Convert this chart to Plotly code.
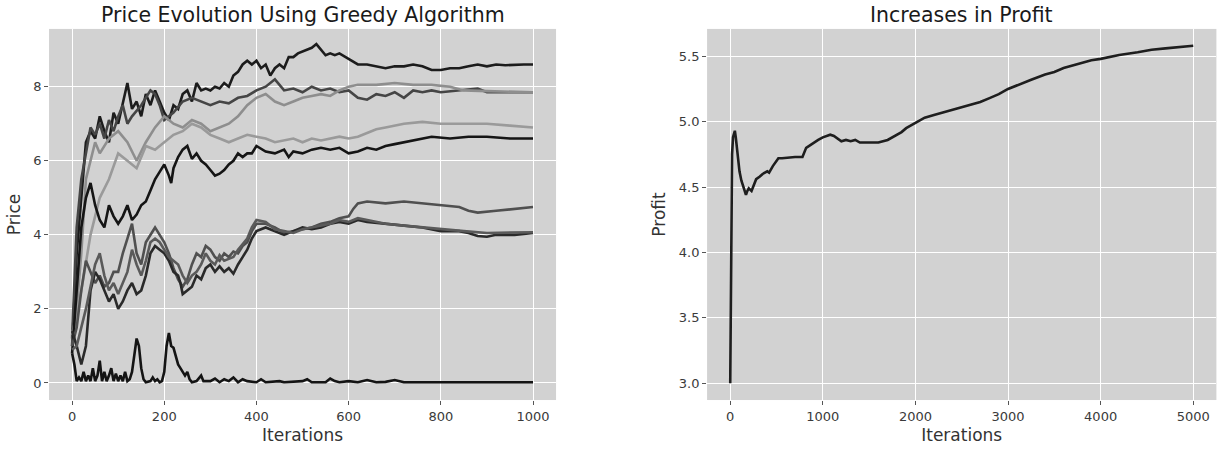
import plotly.graph_objects as go
from plotly.subplots import make_subplots

# ---- price paths (left panel) ----
# each line: iterations, prices
a_x = [0, 10, 20, 30, 40, 50, 60, 70, 80, 90, 100, 110, 120, 130, 140, 150, 160, 170, 180, 190,
       200, 210, 220, 230, 240, 250, 260, 270, 280, 290, 300, 310, 320, 330, 340, 350, 360, 370,
       380, 390, 400, 410, 420, 430, 440, 450, 460, 470, 480, 490, 500, 510, 520, 530, 540, 550,
       560, 570, 580, 600, 620, 640, 660, 680, 700, 720, 740, 760, 780, 800, 820, 840, 860, 880,
       900, 920, 940, 960, 980, 1000]
a_y = [1.0, 3.5, 5.0, 6.5, 6.8, 6.6, 7.2, 6.8, 6.5, 7.3, 7.0, 7.6, 8.1, 7.4, 7.6, 7.2, 7.8, 7.5, 7.9, 7.6,
       7.3, 7.1, 7.5, 7.4, 7.8, 7.9, 7.6, 8.1, 7.9, 7.95, 7.9, 8.0, 7.95, 8.1, 8.0, 8.3, 8.4, 8.6,
       8.7, 8.6, 8.7, 8.5, 8.6, 8.3, 8.5, 8.6, 8.5, 8.8, 8.8, 8.9, 8.95, 9.0, 9.05, 9.15, 9.0, 8.85,
       8.9, 8.85, 8.9, 8.75, 8.6, 8.6, 8.55, 8.5, 8.55, 8.55, 8.6, 8.55, 8.45, 8.45, 8.5, 8.5, 8.55, 8.6,
       8.55, 8.6, 8.58, 8.6, 8.6, 8.6]

b_x = [0, 10, 20, 30, 40, 50, 60, 70, 80, 90, 100, 110, 120, 130, 150, 170, 180, 190, 200, 220,
       240, 260, 280, 300, 320, 340, 360, 380, 400, 420, 440, 460, 480, 500, 520, 540, 560, 580,
       600, 620, 640, 660, 680, 700, 720, 740, 760, 780, 800, 840, 880, 900, 950, 1000]
b_y = [1.2, 4.2, 5.5, 6.2, 6.9, 6.7, 7.0, 6.6, 7.1, 6.8, 7.2, 7.5, 7.0, 7.2, 7.5, 7.9, 7.8, 7.5, 7.1, 7.3,
       7.6, 7.7, 7.6, 7.5, 7.6, 7.55, 7.7, 7.75, 7.9, 8.0, 8.2, 7.9, 7.95, 7.85, 8.0, 7.9, 7.95, 7.85,
       7.9, 7.7, 7.65, 7.8, 7.75, 7.85, 7.7, 7.9, 7.85, 7.9, 7.85, 7.9, 7.95, 7.85, 7.85, 7.85]

c_x = [0, 10, 20, 30, 40, 50, 60, 80, 100, 120, 140, 160, 180, 200, 220, 240, 260, 280, 300, 320,
       340, 360, 380, 400, 420, 440, 460, 480, 500, 520, 540, 560, 580, 600, 620, 660, 700, 740,
       780, 820, 850, 900, 950, 1000]
c_y = [1.0, 2.0, 3.5, 5.5, 6.0, 6.5, 6.2, 6.6, 6.8, 6.5, 6.0, 6.5, 6.9, 7.2, 7.0, 6.9, 7.1, 7.0, 6.8, 6.9,
       7.0, 7.2, 7.5, 7.7, 7.8, 7.6, 7.5, 7.6, 7.7, 7.75, 7.8, 7.75, 7.9, 8.0, 8.05, 8.05, 8.1, 8.05,
       8.05, 8.0, 7.9, 7.88, 7.86, 7.85]

d_x = [0, 20, 40, 60, 80, 100, 120, 140, 160, 180, 200, 220, 240, 260, 280, 300, 320, 340, 360, 380,
       400, 420, 440, 460, 480, 500, 520, 540, 560, 580, 600, 620, 640, 660, 680, 700, 720, 760,
       800, 850, 900, 950, 1000]
d_y = [1.3, 2.5, 4.0, 5.0, 5.5, 6.2, 6.0, 5.8, 6.4, 6.3, 6.5, 6.7, 6.8, 7.0, 6.9, 6.7, 6.6, 6.5, 6.6, 6.7,
       6.65, 6.6, 6.5, 6.55, 6.6, 6.5, 6.6, 6.55, 6.6, 6.65, 6.6, 6.65, 6.75, 6.85, 6.9, 6.95, 7.0, 7.05,
       7.0, 7.0, 7.0, 6.95, 6.9]

e_x = [0, 10, 20, 30, 40, 50, 60, 70, 80, 90, 100, 110, 120, 130, 140, 150, 160, 170, 180, 190,
       200, 210, 215, 220, 230, 240, 250, 260, 270, 280, 290, 300, 310, 320, 330, 340, 350, 360,
       370, 380, 390, 400, 420, 440, 460, 470, 480, 500, 520, 540, 560, 580, 600, 620, 640, 660,
       680, 700, 720, 740, 760, 780, 820, 860, 900, 950, 1000]
e_y = [0.8, 2.5, 4.2, 5.0, 5.4, 4.8, 4.4, 4.2, 4.8, 4.5, 4.3, 4.5, 4.8, 4.4, 4.55, 4.8, 4.9, 5.2, 5.5, 5.7,
       5.9, 5.6, 5.4, 5.8, 6.1, 6.3, 6.4, 6.05, 6.2, 6.0, 5.9, 5.75, 5.6, 5.65, 5.75, 5.9, 6.0, 6.2,
       6.1, 6.2, 6.2, 6.4, 6.25, 6.2, 6.3, 6.1, 6.25, 6.2, 6.3, 6.35, 6.3, 6.35, 6.2, 6.25, 6.35, 6.3,
       6.4, 6.45, 6.5, 6.55, 6.6, 6.65, 6.6, 6.65, 6.65, 6.6, 6.6]

f_x = [0, 10, 20, 30, 40, 50, 60, 70, 80, 90, 100, 110, 120, 130, 140, 150, 160, 170, 180, 190,
       200, 210, 220, 230, 240, 250, 260, 270, 280, 290, 300, 310, 320, 330, 340, 350, 360, 370,
       380, 390, 400, 420, 440, 460, 480, 500, 520, 540, 560, 580, 600, 610, 620, 640, 680, 720,
       760, 800, 840, 860, 880, 920, 960, 1000]
f_y = [1.0, 1.5, 2.5, 3.3, 3.0, 2.7, 2.9, 2.6, 2.7, 3.0, 3.0, 3.5, 3.9, 4.3, 3.5, 3.2, 3.8, 4.0, 4.2, 4.0,
       3.8, 3.5, 3.1, 2.8, 2.6, 2.8, 3.2, 3.5, 3.4, 3.7, 3.6, 3.4, 3.3, 3.5, 3.4, 3.55, 3.5, 3.7,
       3.8, 4.1, 4.3, 4.3, 4.2, 4.05, 4.1, 4.15, 4.2, 4.3, 4.35, 4.45, 4.5, 4.7, 4.85, 4.9, 4.85, 4.9,
       4.85, 4.8, 4.75, 4.65, 4.6, 4.65, 4.7, 4.75]

g_x = [0, 10, 20, 30, 40, 50, 60, 70, 80, 90, 100, 110, 120, 130, 140, 150, 160, 170, 180, 190,
       200, 210, 220, 230, 235, 240, 250, 260, 270, 280, 290, 300, 310, 320, 330, 340, 350, 360,
       370, 380, 390, 400, 420, 440, 460, 480, 500, 520, 540, 560, 580, 600, 620, 640, 680, 720,
       760, 800, 840, 860, 880, 900, 920, 960, 1000]
g_y = [1.4, 1.0, 0.5, 1.0, 2.5, 3.0, 2.8, 2.5, 2.2, 2.4, 2.0, 2.2, 2.5, 2.7, 2.4, 2.5, 2.9, 3.5, 3.7, 3.6,
       3.5, 3.3, 3.0, 2.9, 2.7, 2.4, 2.5, 2.6, 2.9, 2.8, 3.1, 3.2, 3.0, 3.15, 3.0, 3.1, 2.95, 3.2,
       3.4, 3.6, 3.9, 4.1, 4.2, 4.1, 4.0, 4.1, 4.2, 4.15, 4.2, 4.3, 4.35, 4.3, 4.4, 4.35, 4.3, 4.25,
       4.2, 4.1, 4.1, 4.05, 3.97, 3.95, 4.0, 4.0, 4.05]

h_x = [0, 10, 20, 30, 40, 50, 60, 70, 80, 90, 100, 110, 120, 130, 140, 150, 160, 170, 180, 190,
       200, 210, 220, 230, 240, 250, 260, 270, 280, 290, 300, 310, 320, 330, 340, 350, 360, 370,
       380, 390, 400, 420, 440, 460, 480, 500, 520, 540, 560, 580, 600, 620, 640, 680, 720, 760,
       800, 850, 900, 950, 1000]
h_y = [0.9, 1.0, 1.5, 2.0, 2.6, 3.2, 3.5, 2.9, 2.5, 2.7, 2.4, 2.7, 3.0, 3.6, 3.2, 2.9, 3.3, 3.8, 3.9, 3.8,
       3.6, 3.4, 3.3, 3.2, 2.9, 2.7, 2.9, 3.0, 3.2, 3.5, 3.3, 3.2, 3.45, 3.3, 3.35, 3.4, 3.6, 3.75,
       3.9, 4.2, 4.4, 4.35, 4.15, 4.1, 4.05, 4.15, 4.2, 4.25, 4.3, 4.4, 4.35, 4.45, 4.4, 4.3, 4.25, 4.2,
       4.15, 4.1, 4.05, 4.05, 4.07]

i_x = [0, 5, 10, 15, 20, 25, 30, 35, 40, 45, 50, 55, 60, 65, 70, 75, 80, 85, 90, 95,
       100, 105, 110, 115, 120, 125, 130, 135, 140, 145, 150, 155, 160, 170, 175, 180, 185, 190, 195, 200,
       205, 210, 215, 220, 225, 230, 235, 240, 245, 250, 255, 260, 270, 280, 285, 300, 310, 320, 330, 340,
       350, 360, 370, 380, 400, 410, 420, 450, 460, 500, 510, 520, 550, 560, 570, 580, 600, 620, 640, 660,
       680, 700, 720, 800, 1000]
i_y = [0.8, 0.5, 0.05, 0.15, 0.05, 0.3, 0.05, 0.2, 0.05, 0.4, 0.05, 0.2, 0.6, 0.05, 0.3, 0.05, 0.2, 0.4, 0.05, 0.25,
       0.05, 0.2, 0.05, 0.3, 0.05, 0.1, 0.3, 0.7, 1.2, 1.0, 0.4, 0.1, 0.02, 0.05, 0.15, 0.05, 0.1, 0.02, 0.05, 0.3,
       1.0, 1.35, 1.0, 0.95, 0.7, 0.5, 0.4, 0.3, 0.2, 0.3, 0.1, 0.02, 0.05, 0.2, 0.05, 0.05, 0.12, 0.02, 0.1, 0.05,
       0.15, 0.02, 0.1, 0.05, 0.02, 0.1, 0.02, 0.05, 0.02, 0.05, 0.1, 0.02, 0.02, 0.12, 0.05, 0.02, 0.05, 0.02, 0.08, 0.02,
       0.03, 0.08, 0.02, 0.02, 0.02]

# ---- profit (right panel) ----
profit_x = [0, 10, 20, 30, 40, 50, 60, 70, 85, 100, 120, 150, 170, 185, 200, 230, 260, 280, 320, 350,
            400, 420, 460, 480, 520, 560, 650, 700, 750, 780, 820, 860, 900, 950, 1000, 1050, 1080, 1120,
            1160, 1200, 1250, 1300, 1350, 1400, 1500, 1600, 1700, 1750, 1850, 1900, 2000, 2100, 2200, 2300,
            2400, 2500, 2600, 2700, 2800, 2900, 3000, 3100, 3250, 3400, 3500, 3600, 3750, 3900, 4000,
            4200, 4400, 4550, 4700, 4850, 5000]
profit_y = [3.0, 4.2, 4.75, 4.88, 4.9, 4.93, 4.88, 4.8, 4.7, 4.62, 4.55, 4.48, 4.44, 4.47, 4.49, 4.47, 4.52, 4.56, 4.58, 4.6,
            4.62, 4.61, 4.66, 4.68, 4.72, 4.72, 4.73, 4.73, 4.73, 4.73, 4.8, 4.82, 4.84, 4.86, 4.88, 4.89, 4.9, 4.89,
            4.87, 4.85, 4.86, 4.85, 4.86, 4.84, 4.84, 4.84, 4.86, 4.88, 4.92, 4.95, 4.99, 5.03, 5.05, 5.07,
            5.09, 5.11, 5.13, 5.15, 5.18, 5.21, 5.25, 5.28, 5.32, 5.36, 5.38, 5.41, 5.44, 5.47, 5.48,
            5.51, 5.53, 5.55, 5.56, 5.57, 5.58]

price_lines = [
    (a_x, a_y, "#1c1c1c"),
    (b_x, b_y, "#454545"),
    (c_x, c_y, "#8e8e8e"),
    (d_x, d_y, "#9a9a9a"),
    (e_x, e_y, "#151515"),
    (f_x, f_y, "#505050"),
    (g_x, g_y, "#2a2a2a"),
    (h_x, h_y, "#5a5a5a"),
    (i_x, i_y, "#141414"),
]

fig = make_subplots(rows=1, cols=2)

for xs, ys, col in price_lines:
    fig.add_trace(go.Scatter(x=xs, y=ys, mode="lines", line=dict(color=col, width=2.6),
                             showlegend=False), row=1, col=1)

fig.add_trace(go.Scatter(x=profit_x, y=profit_y, mode="lines", line=dict(color="#1e1e1e", width=2.6),
                         showlegend=False), row=1, col=2)

font = "DejaVu Sans, sans-serif"
axis_style = dict(showgrid=True, gridcolor="white", gridwidth=1, zeroline=False, showline=False,
                  ticks="outside", ticklen=4, tickcolor="#555", tickwidth=1,
                  tickfont=dict(family=font, size=13, color="#3a3a3a"))

fig.update_xaxes(**axis_style)
fig.update_yaxes(**axis_style)

label_font = dict(family=font, size=17, color="#333")
title_font = dict(family=font, size=20.5, color="#1a1a1a")

fig.update_layout(
    width=1217, height=452,
    margin=dict(l=0, r=0, t=0, b=0),
    paper_bgcolor="white",
    plot_bgcolor="#d2d2d2",
    xaxis=dict(domain=[0.0403, 0.4569], range=[-50, 1050], tickvals=[0, 200, 400, 600, 800, 1000],
               title=dict(text="Iterations", font=label_font, standoff=6)),
    yaxis=dict(domain=[0.115, 0.936], range=[-0.46, 9.56], tickvals=[0, 2, 4, 6, 8],
               title=dict(text="Price", font=label_font, standoff=8)),
    xaxis2=dict(domain=[0.581, 0.9995], range=[-250, 5250], tickvals=[0, 1000, 2000, 3000, 4000, 5000],
                title=dict(text="Iterations", font=label_font, standoff=6)),
    yaxis2=dict(domain=[0.115, 0.936], range=[2.871, 5.709], tickvals=[3.0, 3.5, 4.0, 4.5, 5.0, 5.5],
                tickformat=".1f",
                title=dict(text="Profit", font=label_font, standoff=8)),
    annotations=[
        dict(text="Price Evolution Using Greedy Algorithm", x=0.2486, y=1.0, xref="paper", yref="paper",
             xanchor="center", yanchor="top", showarrow=False, yshift=-1, font=title_font),
        dict(text="Increases in Profit", x=0.790, y=1.0, xref="paper", yref="paper",
             xanchor="center", yanchor="top", showarrow=False, yshift=-1, font=title_font),
    ],
)

# page body has a default 8px margin; drop it so the figure sits at the window origin
fig.write_html("out.html", config={"displayModeBar": False},
               post_script="document.body.style.margin='0';")
